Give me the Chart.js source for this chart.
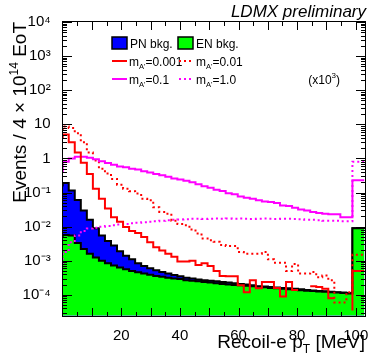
<!DOCTYPE html>
<html>
<head>
<meta charset="utf-8">
<script src="https://cdn.jsdelivr.net/npm/chart.js@4"></script>
<style>
  html, body { margin: 0; padding: 0; background: #fff; }
  #wrap { position: relative; width: 374px; height: 357px; }
  #wrap canvas { position: absolute; left: 0; top: 0; }
  #frame { pointer-events: none; }
</style>
</head>
<body>
<div id="wrap">
  <canvas id="chart" width="374" height="357"></canvas>
  <canvas id="frame" width="374" height="357"></canvas>
</div>
<script>
// Binning of the recoil electron pT histograms (MeV)
var xMin = 0, xMax = 103, nBins = 50;
var xTicks = [20, 40, 60, 80, 100];
var yMin = 2.45e-5, yMax = 1e4;
var yTicks = [1e-4, 1e-3, 1e-2, 1e-1, 1, 10, 100, 1e3, 1e4];
var yTickLabels = ["10⁻⁴", "10⁻³", "10⁻²", "10⁻¹", "1", "10", "10²", "10³", "10⁴"];

// Background (stacked: PN drawn on top of EN)
var pnBkg = [0.15, 0.19, 0.115, 0.06, 0.03, 0.016, 0.009, 0.0055, 0.0038, 0.0028,
  0.0019, 0.0014, 0.0011, 0.00085, 0.0007, 0.0006, 0.00053, 0.00047, 0.00042, 0.00038,
  0.00035, 0.00032, 0.0003, 0.00028, 0.00027, 0.00026, 0.00025, 0.00024, 0.00023, 0.00022,
  0.00021, 0.0002, 0.00019, 0.00018, 0.000175, 0.00017, 0.000165, 0.00016, 0.000155, 0.00015,
  0.000145, 0.00014, 0.000135, 0.00013, 0.000127, 0.000123, 0.00012, 0.000117, 0.000113, 0.009];
var enBkg = [0.005, 0.0057, 0.0055, 0.0033, 0.0022, 0.0016, 0.00125, 0.001, 0.00085, 0.00073,
  0.00063, 0.00056, 0.0005, 0.00046, 0.00042, 0.00039, 0.00036, 0.00034, 0.00032, 0.0003,
  0.00029, 0.00027, 0.00026, 0.00025, 0.00024, 0.00023, 0.00022, 0.00021, 0.0002, 0.000195,
  0.00019, 0.000185, 0.00018, 0.000172, 0.000166, 0.00016, 0.000155, 0.00015, 0.000145, 0.00014,
  0.000137, 0.000133, 0.00013, 0.000126, 0.000123, 0.00012, 0.000117, 0.000114, 0.00011, 0.009];

// Signals
var sig0001 = [4.0, 5.0, 3.0, 1.5, 0.75, 0.35, 0.13, 0.066, 0.034, 0.019,
  0.014, 0.0098, 0.0075, 0.0065, 0.005, 0.0035, 0.0025, 0.002, 0.0016, 0.0013,
  0.00095, 0.00095, 0.001, 0.00075, 0.00085, 0.0007, 0.0005, 0.00036, 0.00035, 0.00035,
  0.00019, 0.00012, 0.00027, 0.000155, 0.00024, 0.00024, 0.00016, 0.00009, 0.00024, 0.00014,
  0, 0.00018, 0.00018, 0.00017, 0.00015, 0.00008, 0, 0, 0.000035, 0.0005];
var sig001 = [6.5, 8.6, 7.8, 5.5, 3.0, 1.5, 0.87, 0.5, 0.36, 0.25,
  0.17, 0.13, 0.11, 0.093, 0.066, 0.059, 0.037, 0.027, 0.024, 0.015,
  0.012, 0.011, 0.0082, 0.0063, 0.0045, 0.004, 0.0036, 0.0029, 0.0027, 0.0027,
  0.0018, 0.0016, 0.0016, 0.0016, 0.0018, 0.0011, 0.00088, 0.00088, 0.0005, 0.0008,
  0.00042, 0.00042, 0.00047, 0.00033, 0.00037, 0.00027, 0.00006, 0.00006, 0.00012, 0.0015];
var sig01 = [0.4, 0.8, 1.0, 1.12, 1.12, 1.05, 0.95, 0.83, 0.73, 0.65,
  0.58, 0.55, 0.5, 0.47, 0.42, 0.39, 0.35, 0.32, 0.29, 0.26,
  0.24, 0.22, 0.2, 0.174, 0.152, 0.139, 0.12, 0.111, 0.095, 0.089,
  0.077, 0.07, 0.066, 0.059, 0.055, 0.053, 0.049, 0.042, 0.04, 0.036,
  0.032, 0.03, 0.027, 0.025, 0.024, 0.023, 0.023, 0.019, 0.019, 0.23];
// m = 1.0, scaled by 10^3
var sig1 = [0.00075, 0.0018, 0.0035, 0.0055, 0.0075, 0.0088, 0.0093, 0.01, 0.0105, 0.011,
  0.0115, 0.012, 0.0125, 0.013, 0.0135, 0.014, 0.0145, 0.015, 0.0155, 0.016,
  0.0163, 0.0165, 0.017, 0.017, 0.0168, 0.017, 0.0172, 0.017, 0.0172, 0.017,
  0.0172, 0.017, 0.0168, 0.017, 0.0172, 0.017, 0.0168, 0.017, 0.017, 0.0168,
  0.0165, 0.016, 0.0158, 0.0155, 0.015, 0.015, 0.0148, 0.0145, 0.0145, 0.8];

var FONT = "'Liberation Sans', Arial, Helvetica, sans-serif";
Chart.defaults.font.family = FONT;
Chart.defaults.color = "#000";

// turn bin contents into step points (left edges + closing right edge)
function histPoints(vals) {
  var w = (xMax - xMin) / nBins;
  var pts = vals.map(function (v, i) { return { x: xMin + i * w, y: v }; });
  pts.push({ x: xMax, y: vals[vals.length - 1] });
  return pts;
}

function lineSet(label, vals, color, dashed, order) {
  return {
    label: label,
    data: histPoints(vals),
    borderColor: color,
    borderWidth: 2,
    borderDash: dashed ? [2, 3] : [],
    stepped: "after",
    pointRadius: 0,
    fill: false,
    order: order
  };
}

// text pieces with sub/superscripts
function drawRich(c, parts, x, y, align) {
  var total = 0;
  parts.forEach(function (p) {
    c.font = p.font;
    p.w = c.measureText(p.t).width;
    total += p.w;
  });
  var cx = align === "right" ? x - total : x;
  c.textAlign = "left";
  c.textBaseline = "alphabetic";
  parts.forEach(function (p) {
    c.font = p.font;
    c.fillText(p.t, cx, y + (p.dy || 0));
    cx += p.w;
  });
}

function massLabel(rest) {
  return [
    { t: "m", font: "12px " + FONT },
    { t: "A'", font: "7.5px " + FONT, dy: 3 },
    { t: rest, font: "12px " + FONT }
  ];
}

// frame and inward ticks (ROOT style), positions from the chart scales
function paintAxesBox(c, chart) {
  var a = chart.chartArea;
  var xs = chart.scales.x, ys = chart.scales.y;
  var L = Math.round(a.left), R = Math.round(a.right);
  var T = Math.round(a.top), B = Math.round(a.bottom);
  c.save();
  c.fillStyle = "#000000";
  c.fillRect(L - 1, T - 1, R - L + 2, 1);
  c.fillRect(L - 1, B, R - L + 2, 1);
  c.fillRect(L - 1, T - 1, 1, B - T + 2);
  c.fillRect(R, T - 1, 1, B - T + 2);
  for (var v = 5; v < xMax; v += 5) {
    var px = Math.round(xs.getPixelForValue(v));
    var len = v % 10 === 0 ? 8 : 4;
    c.fillRect(px, B - len, 1, len);
    c.fillRect(px, T, 1, len);
  }
  for (var ex = -5; ex <= 4; ex++) {
    for (var m = 1; m <= 9; m++) {
      var val = m * Math.pow(10, ex);
      if (val < yMin || val > yMax * 1.0001) continue;
      var py = Math.round(ys.getPixelForValue(val));
      var l = m === 1 ? 9 : 4;
      c.fillRect(L, py, l, 1);
      c.fillRect(R - l, py, l, 1);
    }
  }
  c.restore();
}

function drawTexts(chart) {
  var c = chart.ctx;
  c.save();
  c.fillStyle = "#000";

  // axis titles
  drawRich(c, [
    { t: "Recoil-e p", font: "19px " + FONT },
    { t: "T", font: "12px " + FONT, dy: 5 },
    { t: " [MeV]", font: "19px " + FONT }
  ], 365, 348, "right");

  c.save();
  c.translate(25.5, 22);
  c.rotate(-Math.PI / 2);
  drawRich(c, [
    { t: "Events / 4 × 10", font: "19px " + FONT },
    { t: "14", font: "12px " + FONT, dy: -8 },
    { t: " EoT", font: "19px " + FONT }
  ], 0, 0, "right");
  c.restore();

  drawRich(c, [{ t: "LDMX preliminary", font: "italic 17px " + FONT }], 366, 17, "right");

  // legend
  var rows = [43, 61, 79];
  function box(x, y, color) {
    c.fillStyle = color;
    c.fillRect(x, y - 6, 15, 12);
    c.strokeStyle = "#000";
    c.lineWidth = 1.5;
    c.strokeRect(x, y - 6, 15, 12);
    c.fillStyle = "#000";
  }
  function seg(x, y, color, dashed) {
    c.strokeStyle = color;
    c.lineWidth = 2;
    c.setLineDash(dashed ? [2, 3] : []);
    c.beginPath();
    c.moveTo(x, y); c.lineTo(x + 15, y);
    c.stroke();
    c.setLineDash([]);
  }
  box(112, rows[0], "#0000ff");
  drawRich(c, [{ t: "PN bkg.", font: "12px " + FONT }], 130, rows[0] + 5);
  box(178, rows[0], "#00ff00");
  drawRich(c, [{ t: "EN bkg.", font: "12px " + FONT }], 196, rows[0] + 5);

  seg(112, rows[1], "#ff0000", false);
  drawRich(c, massLabel("=0.001"), 129, rows[1] + 5);
  seg(179, rows[1], "#ff0000", true);
  drawRich(c, massLabel("=0.01"), 196, rows[1] + 5);

  seg(112, rows[2], "#ff00ff", false);
  drawRich(c, massLabel("=0.1"), 129, rows[2] + 5);
  seg(179, rows[2], "#ff00ff", true);
  drawRich(c, massLabel("=1.0"), 196, rows[2] + 5);
  drawRich(c, [
    { t: "(x10", font: "12px " + FONT },
    { t: "3", font: "8px " + FONT, dy: -6 },
    { t: ")", font: "12px " + FONT }
  ], 340, rows[2] + 5, "right");

  c.restore();
}

var rootFrame = {
  id: "rootFrame",
  afterDraw: function (chart) {
    drawTexts(chart);
    paintAxesBox(chart.ctx, chart);
  }
};

var chart = new Chart(document.getElementById("chart").getContext("2d"), {
  type: "line",
  data: {
    datasets: [
      {
        label: "PN bkg.",
        data: histPoints(pnBkg),
        borderColor: "#000",
        borderWidth: 2,
        backgroundColor: "#0000ff",
        fill: "start",
        stepped: "after",
        pointRadius: 0,
        order: 6
      },
      {
        label: "EN bkg.",
        data: histPoints(enBkg),
        borderColor: "#000",
        borderWidth: 2,
        backgroundColor: "#00ff00",
        fill: "start",
        stepped: "after",
        pointRadius: 0,
        order: 5
      },
      lineSet("m=1.0 (x10^3)", sig1, "#ff00ff", true, 4),
      lineSet("m=0.01", sig001, "#ff0000", true, 3),
      lineSet("m=0.1", sig01, "#ff00ff", false, 2),
      lineSet("m=0.001", sig0001, "#ff0000", false, 1)
    ]
  },
  options: {
    responsive: false,
    animation: false,
    layout: { padding: { top: 22, right: 9.5, left: 0, bottom: 0 } },
    plugins: { legend: { display: false }, tooltip: { enabled: false } },
    scales: {
      x: {
        type: "linear",
        min: xMin,
        max: xMax,
        grid: { display: false },
        border: { display: false },
        ticks: { font: { size: 15 }, color: "#000", padding: 3, autoSkip: false, maxRotation: 0 },
        afterBuildTicks: function (s) { s.ticks = xTicks.map(function (v) { return { value: v }; }); },
        afterFit: function (s) { s.height = 41.3; }
      },
      y: {
        type: "logarithmic",
        min: yMin,
        max: yMax,
        grid: { display: false },
        border: { display: false },
        ticks: {
          font: { size: 15 },
          color: "#000",
          padding: 4,
          autoSkip: false,
          callback: function (v, i) { return yTickLabels[i]; }
        },
        afterBuildTicks: function (s) { s.ticks = yTicks.map(function (v) { return { value: v }; }); },
        afterFit: function (s) { s.width = 62.7; }
      }
    }
  },
  plugins: [rootFrame]
});

// frame again on a transparent overlay canvas, using the chart's own scales
paintAxesBox(document.getElementById("frame").getContext("2d"), chart);
</script>
</body>
</html>
